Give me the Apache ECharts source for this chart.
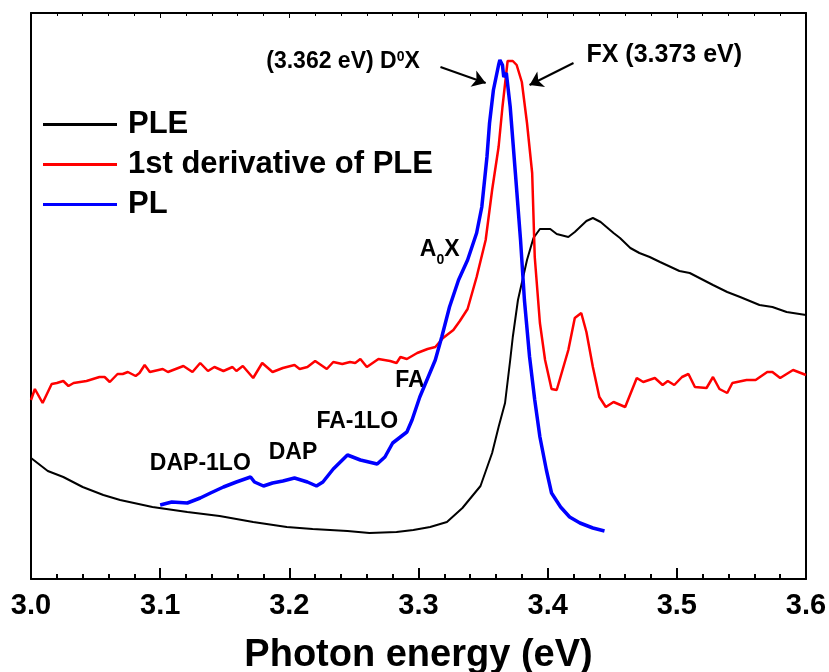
<!DOCTYPE html>
<html style="height: 100%">
<head>
<meta charset="UTF-8">
<title>PLE / PL</title>
<script src="https://cdn.jsdelivr.net/npm/echarts@6/dist/echarts.min.js"></script>
</head>
<body style="height:100%; margin:0; background:#fff">
<div id="main" style="width:829px;height:672px;"></div>
<script>
// photon energy (eV) / intensity (arb. units)
var pleX = [3.000,3.013,3.025,3.040,3.056,3.069,3.094,3.121,3.146,3.172,3.198,3.218,3.245,3.262,3.283,3.296,3.309,3.322,3.334,3.348,3.357,3.362,3.367,3.371,3.373,3.377,3.384,3.389,3.394,3.402,3.407,3.416,3.421,3.430,3.435,3.441,3.451,3.456,3.464,3.471,3.479,3.487,3.502,3.510,3.528,3.539,3.549,3.564,3.574,3.585,3.600];
var pleY = [121,108,102,92,84,79,72,67,63,57,52,50,48,46,47,49,52,57,71,93,126,152,176,219,242,279,319,341,350,350,345,342,347,358,361,357,346,341,331,326,322,317,308,306,294,287,282,274,272,267,264];

var derX = [3.000,3.003,3.009,3.016,3.020,3.025,3.029,3.033,3.043,3.053,3.057,3.061,3.067,3.071,3.075,3.081,3.084,3.088,3.092,3.102,3.106,3.118,3.125,3.131,3.137,3.142,3.149,3.156,3.159,3.164,3.172,3.179,3.187,3.195,3.204,3.208,3.214,3.220,3.229,3.234,3.241,3.247,3.251,3.255,3.260,3.269,3.278,3.283,3.286,3.291,3.299,3.307,3.313,3.319,3.327,3.332,3.338,3.345,3.352,3.357,3.362,3.365,3.369,3.373,3.376,3.380,3.384,3.388,3.390,3.394,3.398,3.403,3.407,3.416,3.421,3.426,3.430,3.435,3.440,3.445,3.451,3.460,3.469,3.474,3.483,3.489,3.493,3.498,3.504,3.509,3.514,3.523,3.528,3.533,3.539,3.543,3.554,3.561,3.570,3.574,3.580,3.590,3.600];
var derY = [179,190,176,195,196,198,193,196,198,202,202,197,205,205,207,203,206,214,207,210,207,213,207,216,208,212,208,212,208,213,201,216,207,211,214,210,212,218,210,217,215,217,216,220,212,220,218,216,222,220,226,230,232,241,249,258,270,302,339,389,432,472,518,518,514,497,456,406,322,256,219,190,189,229,261,266,247,212,182,172,177,172,201,197,201,194,198,194,202,205,192,191,202,190,186,196,199,199,207,207,201,209,204];

var plX = [3.100,3.101,3.109,3.121,3.131,3.139,3.149,3.159,3.170,3.173,3.180,3.187,3.195,3.204,3.214,3.221,3.226,3.234,3.245,3.255,3.268,3.274,3.280,3.291,3.295,3.301,3.313,3.318,3.324,3.331,3.338,3.345,3.349,3.353,3.355,3.358,3.362,3.363,3.365,3.366,3.368,3.371,3.375,3.379,3.382,3.386,3.390,3.394,3.399,3.403,3.410,3.417,3.425,3.435,3.444];
var plY = [74,75,77,76,81,86,92,97,102,97,93,96,98,101,97,93,97,110,124,119,115,122,136,147,159,182,219,242,272,299,319,346,372,422,456,489,514,519,514,502,506,472,406,339,279,222,179,142,109,86,72,62,56,51,48];

var seriesNames = ['PLE', '1st derivative of PLE', 'PL'];
var xTicks = [3.0, 3.1, 3.2, 3.3, 3.4, 3.5, 3.6];

// peak labels
var noteX = [3.301, 3.430, 3.301, 3.282, 3.221, 3.184, 3.092];
var noteY = [517, 524, 329, 198, 157, 126, 115];
var noteText = [
  '{t|(3.362 eV) D}{sup|0}{t|X}',
  '{big|FX (3.373 eV)}',
  '{t|A}{sub|0}{t|X}',
  '{t|FA}',
  '{t|FA-1LO}',
  '{t|DAP}',
  '{t|DAP-1LO}'
];
var noteAlign = ['right', 'left', 'left', 'left', 'left', 'left', 'left'];
// arrows: [fromX, fromY, toX, toY]
var arrows = [[3.317, 512, 3.352, 496], [3.420, 516, 3.386, 494]];

function zip(xs, ys) {
  var out = [];
  for (var i = 0; i < xs.length; i++) out.push([xs[i], ys[i]]);
  return out;
}

var font = 'Liberation Sans, Arial, sans-serif';
var myChart = echarts.init(document.getElementById('main'));

var notes = [];
for (var i = 0; i < noteX.length; i++) {
  notes.push({
    value: [noteX[i], noteY[i]],
    label: { align: noteAlign[i], formatter: noteText[i] }
  });
}
var arrowLines = arrows.map(function (a) {
  return [{ coord: [a[0], a[1]] }, { coord: [a[2], a[3]] }];
});

var option = {
  animation: false,
  grid: { left: 31, right: 23, top: 13, bottom: 93, outerBoundsMode: 'none', containLabel: false },
  legend: {
    orient: 'vertical',
    left: 38,
    top: 104,
    itemWidth: 74,
    itemHeight: 3,
    itemGap: 9,
    icon: 'rect',
    data: seriesNames,
    textStyle: { fontFamily: font, fontWeight: 'bold', fontSize: 31, color: '#000', padding: [0, 0, 0, 6] }
  },
  xAxis: [{
    type: 'value',
    min: 3.0, max: 3.6, interval: 0.1,
    name: 'Photon energy (eV)',
    nameLocation: 'middle',
    nameGap: 58,
    nameTextStyle: { fontFamily: font, fontWeight: 'bold', fontSize: 38, color: '#000' },
    axisLine: { onZero: false, lineStyle: { color: '#000', width: 2 } },
    axisTick: { inside: true, length: 11, lineStyle: { width: 2 } },
    minorTick: { show: true, splitNumber: 5, length: 5, lineStyle: { color: '#000', width: 2 } },
    splitLine: { show: false },
    axisLabel: {
      margin: 12, fontFamily: font, fontWeight: 'bold', fontSize: 29, color: '#000',
      formatter: function (v) { return v.toFixed(1); }
    }
  }, {
    type: 'value',
    position: 'top',
    min: 3.0, max: 3.6, interval: 0.1,
    axisLine: { onZero: false, lineStyle: { color: '#000', width: 2 } },
    axisTick: { inside: true, length: 5, lineStyle: { width: 1 } },
    minorTick: { show: true, splitNumber: 5, length: 3, lineStyle: { color: '#000' } },
    splitLine: { show: false },
    axisLabel: { show: false }
  }],
  yAxis: [{
    type: 'value', min: 0, max: 566,
    axisLine: { show: true, onZero: false, lineStyle: { color: '#000', width: 2 } },
    axisTick: { show: false }, axisLabel: { show: false }, splitLine: { show: false }
  }, {
    type: 'value', min: 0, max: 566, position: 'right',
    axisLine: { show: true, onZero: false, lineStyle: { color: '#000', width: 2 } },
    axisTick: { show: false }, axisLabel: { show: false }, splitLine: { show: false }
  }],
  series: [{
    name: seriesNames[0], type: 'line', showSymbol: false, symbol: 'none',
    data: zip(pleX, pleY), color: '#000000', lineStyle: { width: 2 }
  }, {
    name: seriesNames[1], type: 'line', showSymbol: false, symbol: 'none',
    data: zip(derX, derY), color: '#ff0000', lineStyle: { width: 2.5 }
  }, {
    name: seriesNames[2], type: 'line', showSymbol: false, symbol: 'none',
    data: zip(plX, plY), color: '#0000ff', lineStyle: { width: 3.5 }
  }, {
    name: 'notes', type: 'scatter', symbolSize: 0, silent: true,
    itemStyle: { opacity: 1 },
    data: notes,
    label: {
      show: true, position: 'inside', verticalAlign: 'middle', color: '#000', opacity: 1,
      rich: {
        t: { fontFamily: font, fontWeight: 'bold', fontSize: 23, color: '#000' },
        big: { fontFamily: font, fontWeight: 'bold', fontSize: 25, color: '#000' },
        sup: { fontFamily: font, fontWeight: 'bold', fontSize: 14, color: '#000', verticalAlign: 'top' },
        sub: { fontFamily: font, fontWeight: 'bold', fontSize: 14, color: '#000', verticalAlign: 'bottom', padding: [0, 0, -6, 0] }
      }
    },
    markLine: {
      silent: true,
      symbol: ['none', 'arrow'],
      symbolSize: 13,
      label: { show: false },
      itemStyle: { color: '#000' },
      lineStyle: { color: '#000', width: 2, type: 'solid', opacity: 1 },
      data: arrowLines
    }
  }]
};
myChart.setOption(option);
</script>
</body>
</html>
